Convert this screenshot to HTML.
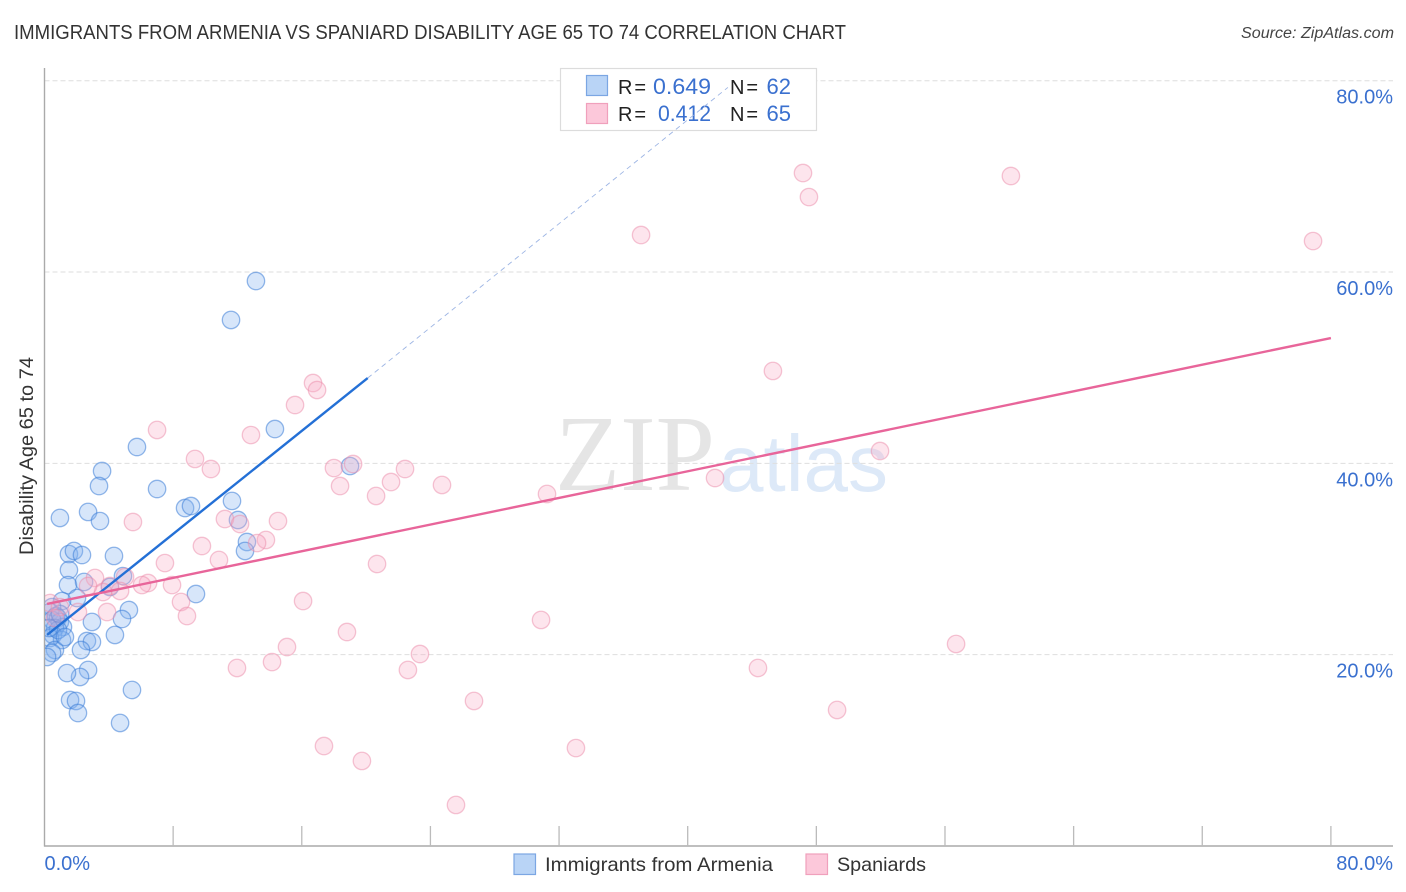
<!DOCTYPE html>
<html>
<head>
<meta charset="utf-8">
<title>Immigrants from Armenia vs Spaniard Disability Age 65 to 74 Correlation Chart</title>
<style>
html,body{margin:0;padding:0;background:#fff;width:1406px;height:892px;overflow:hidden}
svg{display:block;font-family:"Liberation Sans",sans-serif}
</style>
</head>
<body>
<svg id="chart" xmlns="http://www.w3.org/2000/svg" width="1406" height="892" viewBox="0 0 1406 892">
  <defs><clipPath id="plot-clip"><rect x="45" y="60" width="1350" height="786"/></clipPath></defs>
  <rect x="0" y="0" width="1406" height="892" fill="#fff"/>
  <text x="14" y="39" font-size="20" fill="#333" textLength="832" lengthAdjust="spacingAndGlyphs">IMMIGRANTS FROM ARMENIA VS SPANIARD DISABILITY AGE 65 TO 74 CORRELATION CHART</text>
  <text x="1241" y="38" font-size="15.5" font-style="italic" fill="#444" textLength="153" lengthAdjust="spacingAndGlyphs">Source: ZipAtlas.com</text>
  <g id="watermark">
    <text x="555" y="490" font-family="'Liberation Serif',serif" font-size="108" fill="#e5e5e5" textLength="160" lengthAdjust="spacingAndGlyphs">ZIP</text>
    <text x="719" y="491" font-size="80" fill="#dde9f8">atlas</text>
  </g>
  <g id="grid"></g>
  <g id="axes"></g>
  <g id="points" clip-path="url(#plot-clip)"></g>
  <g id="legend-box">
    <rect x="560.5" y="68.5" width="256" height="62" fill="#fff" stroke="#dcdcdc" stroke-width="1.2"/>
    <rect x="586.5" y="75.5" width="21" height="20" fill="#b9d4f6" stroke="#7ba6e3" stroke-width="1.2"/>
    <rect x="586.5" y="103.5" width="21" height="20" fill="#fcc8da" stroke="#f0a0bc" stroke-width="1.2"/>
    <text x="618" y="94" font-size="20" fill="#222" textLength="28" lengthAdjust="spacing">R =</text>
    <text x="653" y="94" font-size="22" fill="#3a70cf" textLength="58" lengthAdjust="spacingAndGlyphs">0.649</text>
    <text x="730" y="94" font-size="20" fill="#222" textLength="28" lengthAdjust="spacing">N =</text>
    <text x="791" y="94" font-size="22" fill="#3a70cf" text-anchor="end">62</text>
    <text x="618" y="121" font-size="20" fill="#222" textLength="28" lengthAdjust="spacing">R =</text>
    <text x="658" y="121" font-size="22" fill="#3a70cf" textLength="53" lengthAdjust="spacingAndGlyphs">0.412</text>
    <text x="730" y="121" font-size="20" fill="#222" textLength="28" lengthAdjust="spacing">N =</text>
    <text x="791" y="121" font-size="22" fill="#3a70cf" text-anchor="end">65</text>
  </g>
  <g id="lines"></g>
  <text transform="translate(33,456) rotate(-90)" font-size="19.5" fill="#333" text-anchor="middle" textLength="198" lengthAdjust="spacingAndGlyphs">Disability Age 65 to 74</text>
  <g id="tick-labels"></g>
  <g id="bottom-legend">
    <rect x="514" y="854" width="21.5" height="20.5" fill="#b9d4f6" stroke="#7ba6e3" stroke-width="1.2"/>
    <text x="545" y="871" font-size="19.5" fill="#333" textLength="228" lengthAdjust="spacingAndGlyphs">Immigrants from Armenia</text>
    <rect x="806" y="854" width="21.5" height="20.5" fill="#fcc8da" stroke="#f0a0bc" stroke-width="1.2"/>
    <text x="837" y="871" font-size="19.5" fill="#333" textLength="89" lengthAdjust="spacingAndGlyphs">Spaniards</text>
  </g>
</svg>
<script>
const armeniaX = [13.15,11.60,14.33,5.75,3.58,3.39,7.00,0.96,2.71,3.45,8.74,9.11,11.66,12.03,12.59,12.47,1.52,1.83,2.33,4.32,1.52,1.46,2.46,4.88,4.07,2.02,1.09,9.42,5.25,4.82,2.95,0.47,0.34,0.72,0.84,0.96,1.15,0.47,0.65,0.53,1.09,0.34,2.64,2.95,4.38,2.27,0.65,0.47,0.16,2.71,2.21,1.40,5.44,1.59,1.96,2.08,4.70,19.00,0.84,1.27,0.28,0.96];
const armeniaY = [59.06,54.99,43.59,41.71,39.20,37.63,37.32,34.29,34.92,33.97,35.33,35.54,36.07,34.08,31.78,30.84,30.52,30.84,30.42,30.32,28.85,27.28,27.60,28.22,27.08,25.92,25.61,26.34,24.67,23.73,23.42,24.98,24.46,24.04,23.83,23.42,22.89,23.63,22.79,22.06,21.53,21.74,21.43,21.33,22.06,20.49,20.49,20.18,19.76,18.40,17.67,18.08,16.31,15.26,15.16,13.90,12.86,39.72,22.58,21.85,22.79,24.25];
const spaniardsX = [78.89,60.10,47.17,47.54,37.10,45.30,51.96,41.70,31.25,30.88,56.69,44.37,49.29,33.05,26.71,25.59,19.74,17.38,23.35,22.60,15.08,14.15,11.97,18.81,16.08,20.68,22.42,21.55,18.00,19.19,18.38,20.62,24.72,16.70,16.95,15.58,12.84,7.00,9.36,10.35,5.50,11.22,12.16,14.52,13.77,13.22,9.79,10.85,7.49,3.14,5.01,6.44,6.06,7.93,4.07,4.70,3.64,2.71,8.49,8.86,2.08,3.89,0.34,0.96,0.65];
const spaniardsY = [63.24,70.04,70.35,67.84,63.87,49.66,41.29,38.47,36.80,23.63,21.12,18.61,14.22,10.24,15.16,4.29,8.89,10.45,20.07,18.40,20.80,19.23,18.61,22.37,25.61,29.48,39.41,38.05,39.51,39.93,37.63,36.59,37.74,48.40,47.67,46.10,42.96,43.49,40.46,39.41,33.87,34.18,33.66,33.97,31.99,31.67,31.36,29.90,29.58,28.02,28.12,27.49,27.28,27.28,27.18,26.66,26.55,27.18,25.51,24.04,24.46,24.46,25.40,24.98,23.83];
const armeniaTrendX = [0.16,20.1];
const armeniaTrendY = [22.06,48.92];
const armeniaDashX = [20.1,42.5];
const armeniaDashY = [48.92,79.3];
const spaniardsTrendX = [0.16,80];
const spaniardsTrendY = [25.3,53.1];
const yTicks = [20,40,60,80];
const yTickLabels = ["20.0%","40.0%","60.0%","80.0%"];
const xTicks = [8,16,24,32,40,48,56,64,72,80];
const xEndTicks = [0,80];
const xEndLabels = ["0.0%","80.0%"];

const NS = 'http://www.w3.org/2000/svg';
function xPx(v){ return 44.5 + v * 16.08; }
function yPx(v){ return 846 - v * 9.566; }
function make(tag, attrs, parent){
  const el = document.createElementNS(NS, tag);
  for (const k in attrs) el.setAttribute(k, attrs[k]);
  parent.appendChild(el);
  return el;
}
const grid = document.getElementById('grid');
const axes = document.getElementById('axes');
const pointsG = document.getElementById('points');
const linesG = document.getElementById('lines');
const labelsG = document.getElementById('tick-labels');

yTicks.forEach(function(t, i){
  const g = make('line', {x1:44.5, x2:1393, y1:yPx(t), y2:yPx(t), stroke:'#dedede', 'stroke-width':1, 'stroke-dasharray':'5 3'}, grid);
  
  
  const lb = make('text', {x:1393, y:yPx(t)+23, 'font-size':20, fill:'#3a70cf', 'text-anchor':'end'}, labelsG);
  lb.textContent = yTickLabels[i];
  
  
});

const yAxis = make('line', {x1:44.5, x2:44.5, y1:68, y2:846.5, stroke:'#aaa', 'stroke-width':1.4}, axes);


const xAxis = make('line', {x1:44, x2:1393, y1:846, y2:846, stroke:'#aaa', 'stroke-width':1.4}, axes);



xTicks.forEach(function(t){
  const m = make('line', {x1:xPx(t), x2:xPx(t), y1:826, y2:846, stroke:'#bbb', 'stroke-width':1.3}, axes);
  
  
});
xEndTicks.forEach(function(t, i){
  const lb = make('text', {x: i === 0 ? xPx(t) : 1393, y:870, 'font-size':20, fill:'#3a70cf', 'text-anchor': i === 0 ? 'start' : 'end'}, labelsG);
  lb.textContent = xEndLabels[i];
  
  
});

armeniaX.forEach(function(v, i){
  const c = make('circle', {cx:xPx(v), cy:yPx(armeniaY[i]), r:8.7, fill:'rgba(130,178,238,0.32)', stroke:'rgba(60,125,215,0.55)', 'stroke-width':1.3}, pointsG);
  
  
});
spaniardsX.forEach(function(v, i){
  const c = make('circle', {cx:xPx(v), cy:yPx(spaniardsY[i]), r:8.7, fill:'rgba(248,175,198,0.32)', stroke:'rgba(235,140,170,0.5)', 'stroke-width':1.3}, pointsG);
  
  
});

const dash = make('line', {x1:xPx(armeniaDashX[0]), y1:yPx(armeniaDashY[0]), x2:xPx(armeniaDashX[1]), y2:yPx(armeniaDashY[1]), stroke:'#9db5e4', 'stroke-width':0.9, 'stroke-dasharray':'5 4'}, linesG);


const tb = make('line', {x1:xPx(armeniaTrendX[0]), y1:yPx(armeniaTrendY[0]), x2:xPx(armeniaTrendX[1]), y2:yPx(armeniaTrendY[1]), stroke:'#2470d6', 'stroke-width':2.4}, linesG);


const tp = make('line', {x1:xPx(spaniardsTrendX[0]), y1:yPx(spaniardsTrendY[0]), x2:xPx(spaniardsTrendX[1]), y2:yPx(spaniardsTrendY[1]), stroke:'#e8659a', 'stroke-width':2.4}, linesG);


</script>
</body>
</html>
